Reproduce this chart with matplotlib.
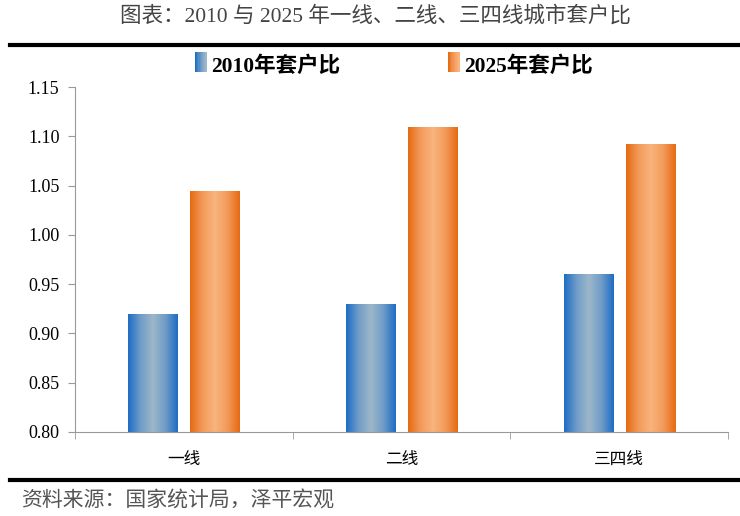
import numpy as np
import matplotlib
matplotlib.use("Agg")
import matplotlib.pyplot as plt
from matplotlib.lines import Line2D
from matplotlib.patches import Rectangle
from matplotlib.colors import LinearSegmentedColormap
from matplotlib.legend_handler import HandlerBase

plt.rcParams['font.family'] = ['Liberation Serif', 'Noto Sans CJK SC', 'DejaVu Sans']

# data
cities = ['一线', '二线', '三四线']
ratio_2010 = [0.92, 0.93, 0.96]
ratio_2025 = [1.045, 1.11, 1.092]
series_names = ['2010年套户比', '2025年套户比']
yticks = [0.80, 0.85, 0.90, 0.95, 1.00, 1.05, 1.10, 1.15]

# gradients: dark edge -> light center -> dark edge
blue_cmap = LinearSegmentedColormap.from_list('b', ['#1d6cc4', '#6f9cc8', '#9db7c9', '#6f9cc8', '#1d6cc4'])
orange_cmap = LinearSegmentedColormap.from_list('o', ['#e56a12', '#f39a5a', '#f9b47e', '#f39a5a', '#e56a12'])

fig = plt.figure(figsize=(7.4, 5.16), dpi=100)
ax = fig.add_axes([0.101, 0.163, 0.883, 0.668])

x = np.arange(len(cities))
w = 0.225
off = 0.143
grad = np.linspace(0, 1, 256).reshape(1, -1)

def gradient_bars(xs, vals, cmap):
    bars = ax.bar(xs, [v - 0.8 for v in vals], width=w, bottom=0.8, color='none', zorder=2)
    for b in bars:
        x0, y0 = b.get_x(), b.get_y()
        im = ax.imshow(grad, extent=[x0, x0 + b.get_width(), y0, y0 + b.get_height()],
                       aspect='auto', cmap=cmap, zorder=2, interpolation='bilinear')
        im.set_clip_path(b)

gradient_bars(x - off, ratio_2010, blue_cmap)
gradient_bars(x + off, ratio_2025, orange_cmap)

ax.set_xlim(-0.5, len(cities) - 0.5)
ax.set_ylim(0.80, 1.15)
ax.set_yticks(yticks)
ax.set_yticklabels(['%.2f' % t for t in yticks], fontsize=13)
ax.set_xticks(x)
ax.set_xticklabels(cities, fontsize=12, family=['Noto Sans CJK SC'])
ax.set_xticks(np.arange(len(cities) + 1) - 0.5, minor=True)
ax.tick_params(axis='x', which='major', length=0, pad=14)
ax.tick_params(axis='x', which='minor', length=5, color='#999999', direction='out')
ax.tick_params(axis='y', length=5, color='#999999', direction='out', pad=6)
for s in ['top', 'right']:
    ax.spines[s].set_visible(False)
for s in ['left', 'bottom']:
    ax.spines[s].set_color('#999999')

# legend with gradient squares
class GradHandler(HandlerBase):
    def __init__(self, cmap):
        super().__init__()
        self.cmap = cmap
    def create_artists(self, legend, orig, xd, yd, width, height, fontsize, trans):
        n = 10
        arts = []
        for i in range(n):
            c = self.cmap(0.0 + 0.5 * i / (n - 1))
            arts.append(Rectangle((xd + width * i / n, yd - 1), width / n + 0.3, height + 2,
                                  facecolor=c, edgecolor='none', transform=trans))
        return arts

h1 = Rectangle((0, 0), 1, 1)
h2 = Rectangle((0, 0), 1, 1)
fig.legend([h1, h2], series_names, loc='center', bbox_to_anchor=(0.532, 0.872), ncol=2,
           frameon=False, handler_map={h1: GradHandler(blue_cmap), h2: GradHandler(orange_cmap)},
           prop={'family': ['Liberation Serif', 'Noto Sans CJK SC'], 'weight': 'bold', 'size': 15.5},
           handlelength=0.55, handleheight=0.85, handletextpad=0.2, columnspacing=5.0)

# title, rules, source
fig.text(0.508, 0.968, '图表：2010 与 2025 年一线、二线、三四线城市套户比', ha='center', va='center',
         fontsize=15.5, color='#444444')
fig.add_artist(Line2D([0.013, 1.0], [0.912, 0.912], color='black', lw=3))
fig.add_artist(Line2D([0.013, 1.0], [0.069, 0.069], color='black', lw=3))
fig.text(0.028, 0.030, '资料来源：国家统计局，泽平宏观', ha='left', va='center', fontsize=15,
         color='#555555', style='italic', family=['Noto Sans CJK SC'])

fig.savefig('out.png', dpi=100)
